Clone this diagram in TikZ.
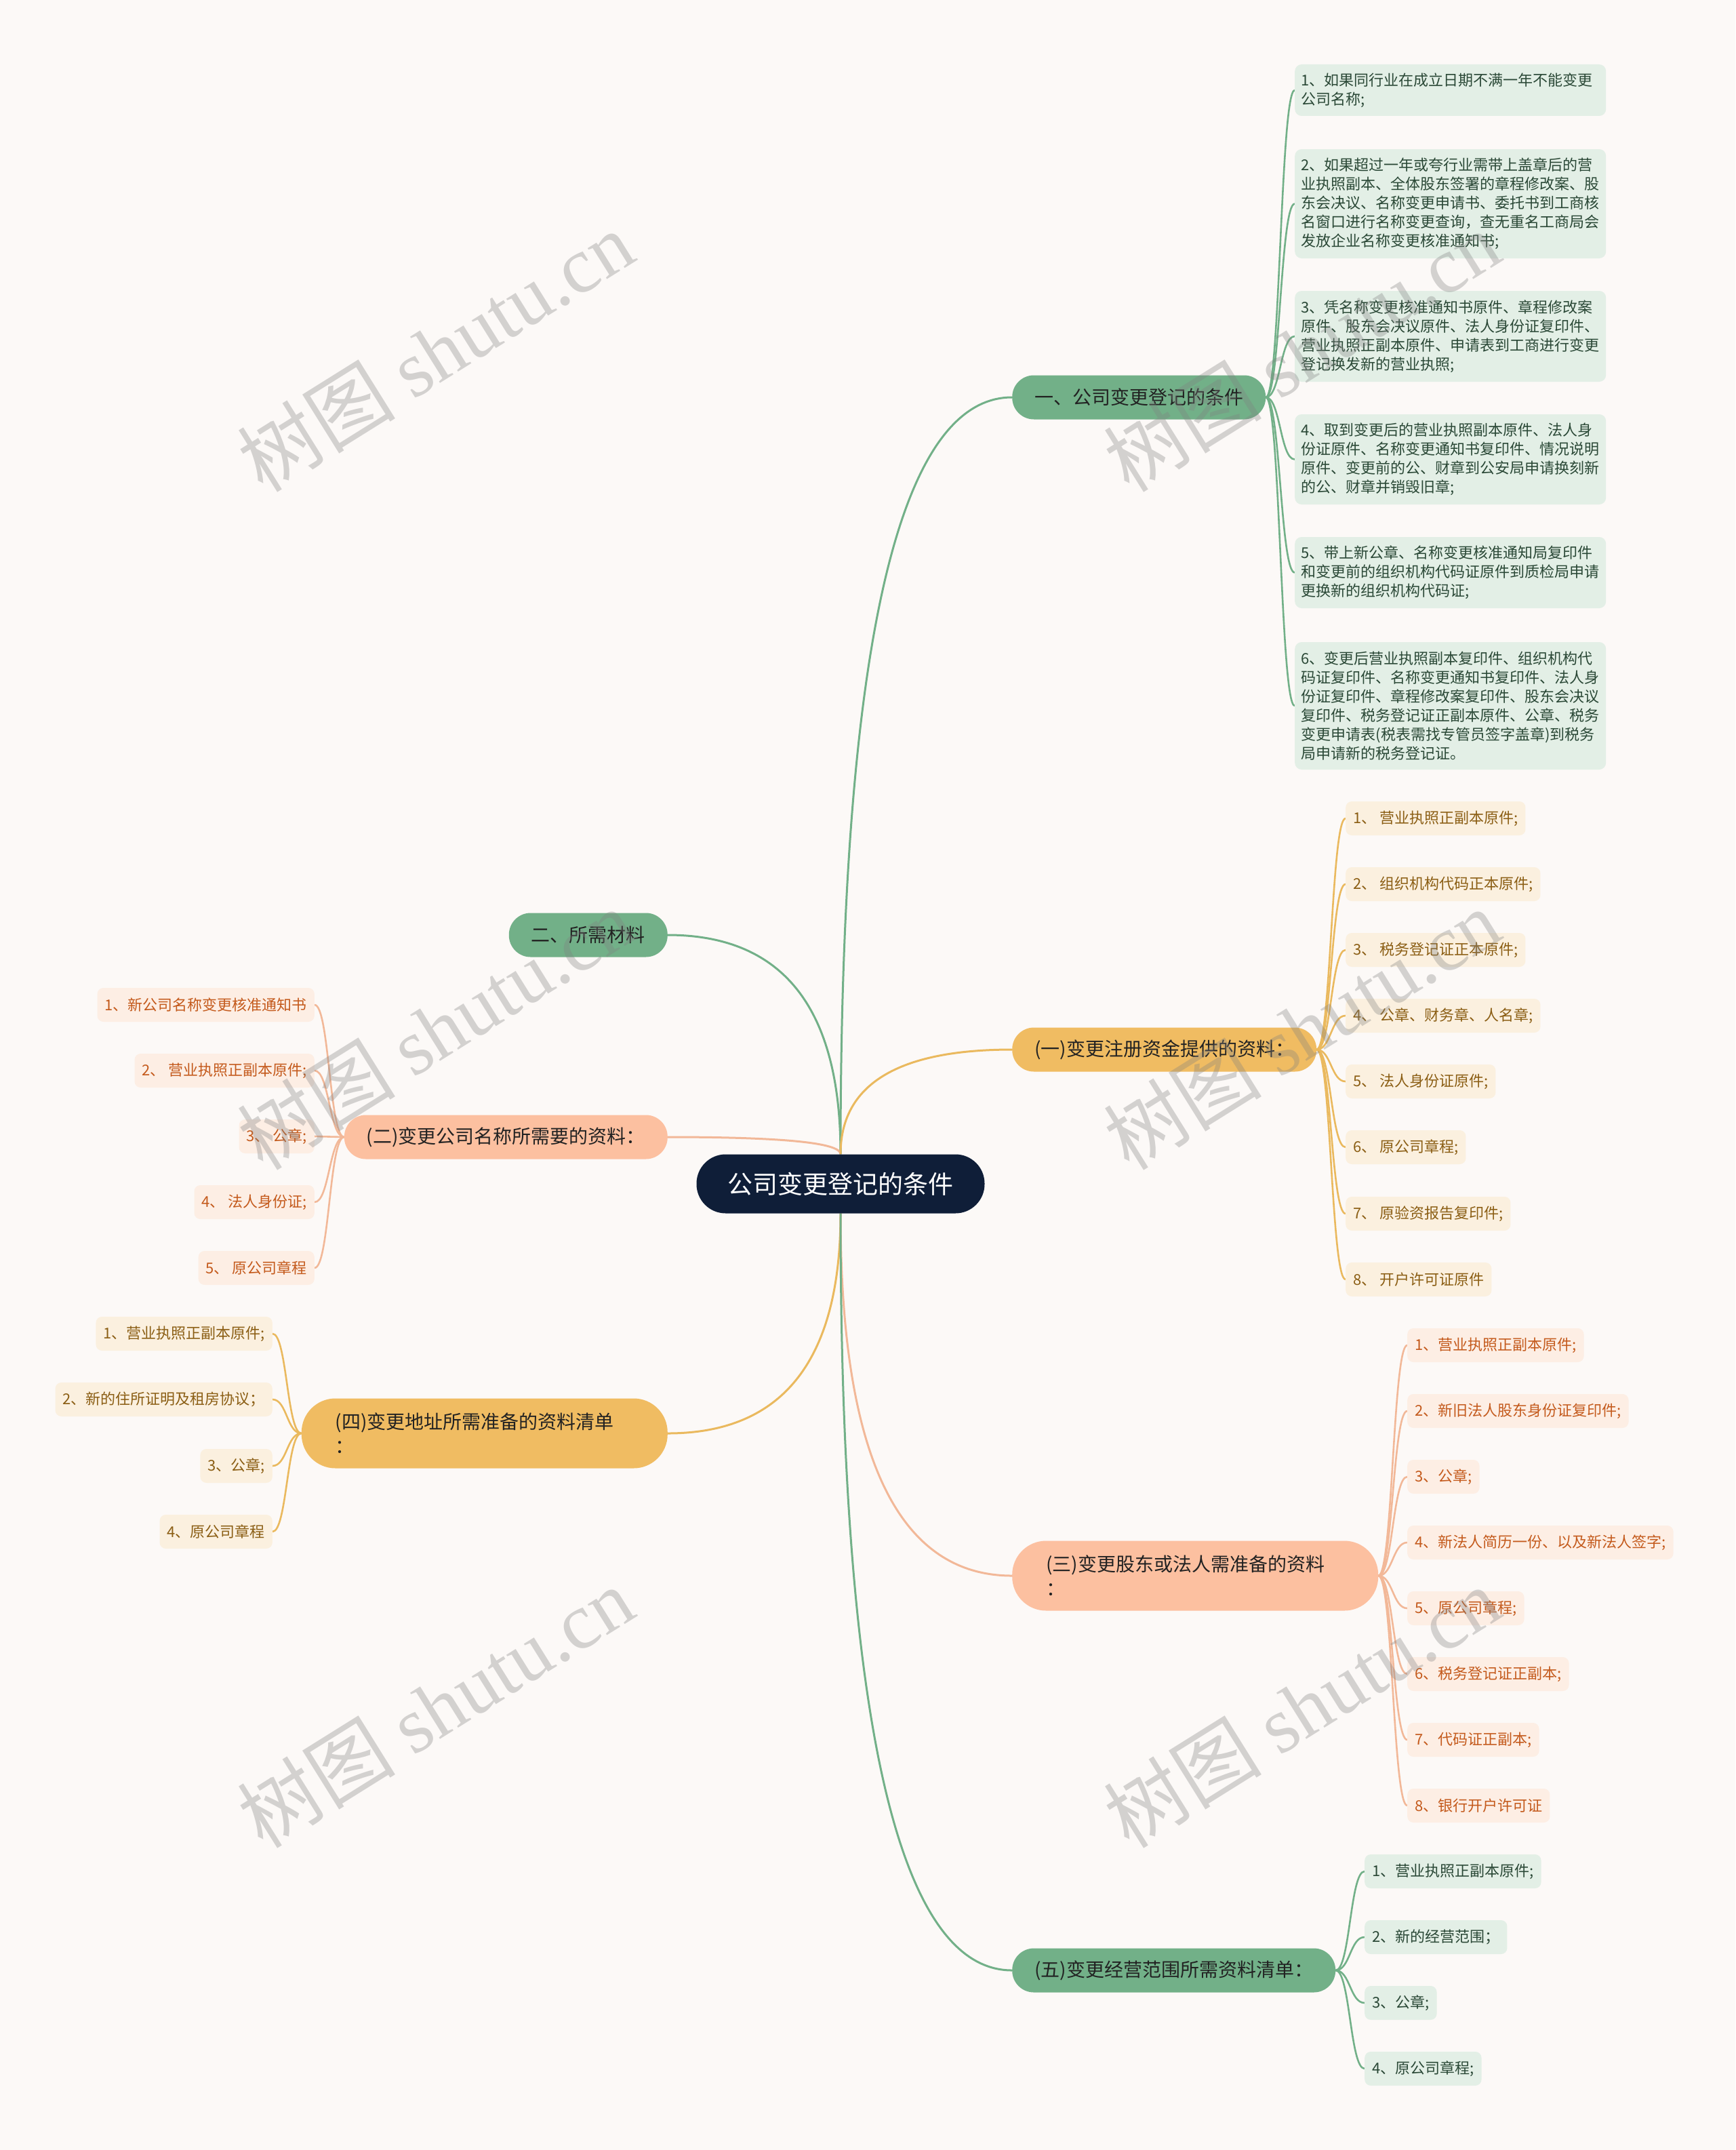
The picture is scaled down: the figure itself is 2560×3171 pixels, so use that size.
\documentclass[tikz,border=0pt]{standalone}
\usepackage{fontspec}
\setmainfont{Noto Sans CJK SC}
\newfontfamily\wmserif{Liberation Serif}
\usetikzlibrary{calc}
\definecolor{bgc}{HTML}{FCF9F7}
\definecolor{rootc}{HTML}{0F1E38}
\definecolor{gmain}{HTML}{72B088}
\definecolor{ymain}{HTML}{F0BC62}
\definecolor{smain}{HTML}{FCC0A0}
\definecolor{gline}{HTML}{72B088}
\definecolor{yline}{HTML}{EAB95E}
\definecolor{sline}{HTML}{F2B898}
\definecolor{gfill}{HTML}{E3EFE6}
\definecolor{yfill}{HTML}{FBF0DF}
\definecolor{sfill}{HTML}{FDEEE4}
\definecolor{gtext}{HTML}{2A4836}
\definecolor{ytext}{HTML}{8B5E14}
\definecolor{stext}{HTML}{C45A1C}
\definecolor{ltext}{HTML}{222222}
\pgfdeclarelayer{back}
\pgfdeclarelayer{conn}
\pgfdeclarelayer{wm}
\pgfsetlayers{back,conn,main,wm}
\newcommand\mmroot[3]{\draw[#1] let \p1=(#2), \p2=(#3) in (\p1) .. controls (\x1,{\y1/3+2*(\y2)/3}) and ({2*(\x1)/3+\x2/3},\y2) .. (\p2);}
\newcommand\mmlink[3]{\draw[#1] let \p1=(#2), \p2=(#3) in (\p1) .. controls ({\x1/2+\x2/2},\y1) and ({\x1/2+\x2/2},\y2) .. (\p2);}
\begin{document}
\begin{tikzpicture}[x=1pt,y=-1pt,
  rootbox/.style={fill=rootc,text=white,rounded corners=43pt,minimum height=87pt,minimum width=425pt,inner xsep=40pt,font=\fontsize{37}{44}\selectfont},
  lone/.style={rounded corners=32pt,minimum height=65pt,inner xsep=33pt,text=ltext,font=\fontsize{28}{36}\selectfont},
  ltwo/.style={rounded corners=50pt,minimum height=103pt,inner xsep=50pt,text width=440pt,align=left,text=ltext,font=\fontsize{28}{36}\selectfont},
  gone/.style={lone,fill=gmain},
  yone/.style={lone,fill=ymain},
  sone/.style={lone,fill=smain},
  ytwo/.style={ltwo,fill=ymain},
  stwo/.style={ltwo,fill=smain},
  leaf/.style={rounded corners=9pt,minimum height=50pt,inner xsep=11pt,font=\fontsize{22}{28}\selectfont},
  gleaf/.style={leaf,fill=gfill,text=gtext},
  yleaf/.style={leaf,fill=yfill,text=ytext},
  sleaf/.style={leaf,fill=sfill,text=stext},
  gbig/.style={gleaf,text width=440pt,align=left,inner xsep=9.5pt,rounded corners=10pt},
  gcon/.style={draw=gline,line width=3pt},
  ycon/.style={draw=yline,line width=3pt},
  scon/.style={draw=sline,line width=3pt},
  gthin/.style={draw=gline,line width=2.6pt},
  ythin/.style={draw=yline,line width=2.6pt},
  sthin/.style={draw=sline,line width=2.6pt},
  wmark/.style={text=gray,text opacity=0.33,font=\fontsize{117}{124}\selectfont,rotate=32}
]
\useasboundingbox (0,0) rectangle (2560,3171);
\begin{pgfonlayer}{back}
\fill[bgc] (0,0) rectangle (2560,3171);
\end{pgfonlayer}

% root
\node[rootbox] (root) at (1240,1746) {公司变更登记的条件};

% level 1
\node[gone,anchor=west] (a) at (1493,586) {一、公司变更登记的条件};
\node[gone,anchor=east] (b) at (985,1379) {二、所需材料};
\node[sone,anchor=east] (c) at (985,1677) {(二)变更公司名称所需要的资料：};
\node[ytwo,anchor=east] (d) at (985,2114) {(四)变更地址所需准备的资料清单\\：};
\node[yone,anchor=west] (e) at (1493,1548) {(一)变更注册资金提供的资料：};
\node[stwo,anchor=west] (f) at (1493,2324) {(三)变更股东或法人需准备的资料\\：};
\node[gone,anchor=west] (g) at (1493,2906) {(五)变更经营范围所需资料清单：};

% leaves of a
\node[gbig,anchor=west,minimum height=76pt] (a1) at (1910,133) {1、如果同行业在成立日期不满一年不能变更\\公司名称;};
\node[gbig,anchor=west,minimum height=161pt] (a2) at (1910,300.5) {2、如果超过一年或夸行业需带上盖章后的营\\业执照副本、全体股东签署的章程修改案、股\\东会决议、名称变更申请书、委托书到工商核\\名窗口进行名称变更查询，查无重名工商局会\\发放企业名称变更核准通知书;};
\node[gbig,anchor=west,minimum height=134pt] (a3) at (1910,496) {3、凭名称变更核准通知书原件、章程修改案\\原件、股东会决议原件、法人身份证复印件、\\营业执照正副本原件、申请表到工商进行变更\\登记换发新的营业执照;};
\node[gbig,anchor=west,minimum height=133pt] (a4) at (1910,677.5) {4、取到变更后的营业执照副本原件、法人身\\份证原件、名称变更通知书复印件、情况说明\\原件、变更前的公、财章到公安局申请换刻新\\的公、财章并销毁旧章;};
\node[gbig,anchor=west,minimum height=105pt] (a5) at (1910,844.5) {5、带上新公章、名称变更核准通知局复印件\\和变更前的组织机构代码证原件到质检局申请\\更换新的组织机构代码证;};
\node[gbig,anchor=west,minimum height=188pt] (a6) at (1910,1041) {6、变更后营业执照副本复印件、组织机构代\\码证复印件、名称变更通知书复印件、法人身\\份证复印件、章程修改案复印件、股东会决议\\复印件、税务登记证正副本原件、公章、税务\\变更申请表(税表需找专管员签字盖章)到税务\\局申请新的税务登记证。};

% leaves of c
\node[sleaf,anchor=east] (c1) at (464,1482) {1、新公司名称变更核准通知书};
\node[sleaf,anchor=east] (c2) at (464,1579) {2、 营业执照正副本原件;};
\node[sleaf,anchor=east] (c3) at (464,1676) {3、 公章;};
\node[sleaf,anchor=east] (c4) at (464,1773) {4、 法人身份证;};
\node[sleaf,anchor=east] (c5) at (464,1870) {5、 原公司章程};

% leaves of d
\node[yleaf,anchor=east] (d1) at (402,1967) {1、营业执照正副本原件;};
\node[yleaf,anchor=east] (d2) at (402,2064) {2、新的住所证明及租房协议；};
\node[yleaf,anchor=east] (d3) at (402,2162) {3、公章;};
\node[yleaf,anchor=east] (d4) at (402,2259) {4、原公司章程};

% leaves of e
\node[yleaf,anchor=west] (e1) at (1985,1207) {1、 营业执照正副本原件;};
\node[yleaf,anchor=west] (e2) at (1985,1304) {2、 组织机构代码正本原件;};
\node[yleaf,anchor=west] (e3) at (1985,1401) {3、 税务登记证正本原件;};
\node[yleaf,anchor=west] (e4) at (1985,1498) {4、 公章、财务章、人名章;};
\node[yleaf,anchor=west] (e5) at (1985,1595) {5、 法人身份证原件;};
\node[yleaf,anchor=west] (e6) at (1985,1692) {6、 原公司章程;};
\node[yleaf,anchor=west] (e7) at (1985,1790) {7、 原验资报告复印件;};
\node[yleaf,anchor=west] (e8) at (1985,1887) {8、 开户许可证原件};

% leaves of f
\node[sleaf,anchor=west] (f1) at (2076,1984) {1、营业执照正副本原件;};
\node[sleaf,anchor=west] (f2) at (2076,2081) {2、新旧法人股东身份证复印件;};
\node[sleaf,anchor=west] (f3) at (2076,2178) {3、公章;};
\node[sleaf,anchor=west] (f4) at (2076,2275) {4、新法人简历一份、以及新法人签字;};
\node[sleaf,anchor=west] (f5) at (2076,2372) {5、原公司章程;};
\node[sleaf,anchor=west] (f6) at (2076,2469) {6、税务登记证正副本;};
\node[sleaf,anchor=west] (f7) at (2076,2566) {7、代码证正副本;};
\node[sleaf,anchor=west] (f8) at (2076,2663) {8、银行开户许可证};

% leaves of g
\node[gleaf,anchor=west] (g1) at (2013,2760) {1、营业执照正副本原件;};
\node[gleaf,anchor=west] (g2) at (2013,2857) {2、新的经营范围；};
\node[gleaf,anchor=west] (g3) at (2013,2954) {3、公章;};
\node[gleaf,anchor=west] (g4) at (2013,3051) {4、原公司章程;};

% connectors
\begin{pgfonlayer}{conn}
\mmroot{gcon}{root.north}{a.west}
\mmroot{gcon}{root.north}{b.east}
\mmroot{scon}{root.north}{c.east}
\mmroot{ycon}{root.south}{d.east}
\mmroot{ycon}{root.north}{e.west}
\mmroot{scon}{root.south}{f.west}
\mmroot{gcon}{root.south}{g.west}
\foreach \k in {1,...,6} {\mmlink{gthin}{a.east}{a\k.west}}
\foreach \k in {1,...,5} {\mmlink{sthin}{c.west}{c\k.east}}
\foreach \k in {1,...,4} {\mmlink{ythin}{d.west}{d\k.east}}
\foreach \k in {1,...,8} {\mmlink{ythin}{e.east}{e\k.west}}
\foreach \k in {1,...,8} {\mmlink{sthin}{f.east}{f\k.west}}
\foreach \k in {1,...,4} {\mmlink{gthin}{g.east}{g\k.west}}
\end{pgfonlayer}

% watermarks
\begin{pgfonlayer}{wm}
\node[wmark] (w1) at (642,518) {树图 {\wmserif shutu.cn}};
\node[wmark] (w2) at (1920,518) {树图 {\wmserif shutu.cn}};
\node[wmark] (w3) at (642,1518) {树图 {\wmserif shutu.cn}};
\node[wmark] (w4) at (1920,1518) {树图 {\wmserif shutu.cn}};
\node[wmark] (w5) at (642,2518) {树图 {\wmserif shutu.cn}};
\node[wmark] (w6) at (1920,2518) {树图 {\wmserif shutu.cn}};
\end{pgfonlayer}
\end{tikzpicture}
\end{document}
